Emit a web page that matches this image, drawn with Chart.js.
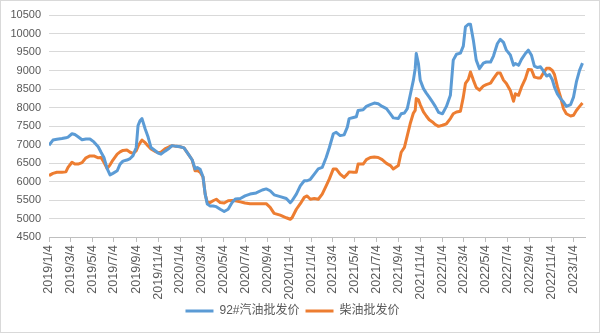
<!DOCTYPE html>
<html>
<head>
<meta charset="utf-8">
<script src="https://cdn.jsdelivr.net/npm/chart.js@4.4.0/dist/chart.umd.min.js"></script>
<style>
  body { margin: 0; background: #fff; }
  #wrap { width: 600px; height: 333px; position: relative; }
</style>
</head>
<body>
<div id="wrap"><canvas id="myChart"></canvas></div>
<script>
// 日期（周度采样，读自原图）
var dates = [
  '2019/1/4','2019/1/15','2019/1/26','2019/2/9','2019/2/20','2019/2/26','2019/3/9','2019/3/17','2019/3/26','2019/4/6',
  '2019/4/17','2019/4/28','2019/5/9','2019/5/21','2019/5/29','2019/6/6','2019/6/15','2019/6/23','2019/7/1','2019/7/13',
  '2019/7/21','2019/7/29','2019/8/9','2019/8/18','2019/8/26','2019/9/4','2019/9/9','2019/9/15','2019/9/20','2019/9/29',
  '2019/10/7','2019/10/15','2019/10/27','2019/11/4','2019/11/12','2019/11/23','2019/12/5','2019/12/13','2019/12/24','2020/1/4',
  '2020/1/15','2020/1/27','2020/2/7','2020/2/15','2020/2/21','2020/2/29','2020/3/8','2020/3/14','2020/3/20','2020/3/28',
  '2020/4/5','2020/4/14','2020/4/25','2020/5/6','2020/5/17','2020/5/28','2020/6/6','2020/6/20','2020/7/3','2020/7/17',
  '2020/8/3','2020/8/20','2020/8/31','2020/9/11','2020/9/22','2020/10/9','2020/10/26','2020/11/6','2020/11/11','2020/11/23',
  '2020/12/4','2020/12/15','2020/12/23','2021/1/1','2021/1/12','2021/1/23','2021/2/3','2021/2/14','2021/2/23','2021/3/6',
  '2021/3/14','2021/3/25','2021/4/5','2021/4/14','2021/4/19','2021/5/1','2021/5/9','2021/5/14','2021/5/28','2021/6/6',
  '2021/6/17','2021/6/28','2021/7/9','2021/7/20','2021/8/1','2021/8/12','2021/8/20','2021/9/3','2021/9/11','2021/9/20',
  '2021/9/28','2021/10/6','2021/10/15','2021/10/20','2021/10/23','2021/10/29','2021/11/3','2021/11/12','2021/11/20','2021/11/28',
  '2021/12/7','2021/12/15','2021/12/24','2022/1/4','2022/1/15','2022/1/26','2022/2/3','2022/2/12','2022/2/23','2022/3/3',
  '2022/3/9','2022/3/17','2022/3/23','2022/3/31','2022/4/8','2022/4/17','2022/4/28','2022/5/6','2022/5/18','2022/5/26',
  '2022/6/6','2022/6/14','2022/6/23','2022/7/1','2022/7/12','2022/7/21','2022/7/26','2022/8/4','2022/8/12','2022/8/23',
  '2022/8/31','2022/9/9','2022/9/17','2022/9/26','2022/10/4','2022/10/12','2022/10/21','2022/10/29','2022/11/6','2022/11/12',
  '2022/11/20','2022/11/29','2022/12/7','2022/12/15','2022/12/27','2023/1/4','2023/1/12','2023/1/21','2023/1/29'
];

// 92#汽油批发价
var gasoline = [
  6980,7120,7140,7160,7180,7200,7290,7270,7210,7130,
  7150,7150,7070,6940,6790,6650,6350,6180,6220,6290,
  6470,6550,6580,6620,6700,6920,7510,7650,7700,7420,
  7200,6920,6830,6770,6740,6820,6900,6970,6950,6940,
  6910,6740,6580,6340,6380,6330,6130,5660,5390,5340,
  5340,5320,5250,5190,5250,5430,5530,5540,5610,5660,
  5690,5770,5800,5750,5640,5590,5540,5430,5480,5660,
  5880,6020,6020,6060,6200,6340,6380,6650,6920,7290,
  7330,7240,7260,7470,7700,7730,7750,7920,7940,8030,
  8080,8120,8100,8030,7970,7830,7720,7700,7830,7850,
  7970,8330,8740,9050,9460,9190,8740,8510,8390,8280,
  8150,8030,7870,7830,8030,8330,9280,9440,9470,9660,
  10180,10250,10250,9820,9280,9050,9200,9230,9230,9390,
  9730,9840,9760,9550,9420,9140,9190,9140,9300,9460,
  9550,9410,9120,9080,9100,8990,8850,8890,8750,8550,
  8370,8240,8150,8030,8080,8280,8690,9010,9200
];

// 柴油批发价
var diesel = [
  6160,6220,6250,6250,6260,6380,6520,6470,6470,6510,
  6640,6690,6690,6640,6650,6520,6350,6450,6580,6740,
  6800,6840,6850,6790,6760,6830,6950,7050,7120,7050,
  6960,6880,6810,6780,6790,6880,6940,6970,6950,6940,
  6910,6740,6580,6290,6300,6250,6120,5660,5430,5430,
  5480,5520,5430,5420,5480,5490,5480,5450,5420,5400,
  5400,5400,5400,5300,5140,5090,5020,4980,5020,5250,
  5400,5570,5610,5520,5540,5520,5660,5880,6070,6340,
  6340,6200,6110,6200,6260,6250,6250,6470,6470,6590,
  6650,6660,6650,6590,6490,6430,6340,6430,6790,6920,
  7240,7560,7850,7920,8240,8210,8080,7880,7770,7670,
  7610,7540,7490,7520,7560,7700,7830,7880,7900,8280,
  8650,8760,8960,8740,8540,8470,8580,8620,8660,8780,
  8930,8930,8740,8650,8460,8170,8370,8330,8550,8780,
  9030,9020,8820,8800,8800,8930,9060,9060,9000,8890,
  8570,8280,7970,7830,7770,7790,7920,8030,8120
];

var tickLabels = [
  '2019/1/4','2019/3/4','2019/5/4','2019/7/4','2019/9/4','2019/11/4',
  '2020/1/4','2020/3/4','2020/5/4','2020/7/4','2020/9/4','2020/11/4',
  '2021/1/4','2021/3/4','2021/5/4','2021/7/4','2021/9/4','2021/11/4',
  '2022/1/4','2022/3/4','2022/5/4','2022/7/4','2022/9/4','2022/11/4',
  '2023/1/4'
];

//日期→距2019/1/4的天数
function dayOf(s) {
  var p = s.split('/').map(Number);
  return (Date.UTC(p[0], p[1] - 1, p[2]) - Date.UTC(2019, 0, 4)) / 86400000;
}

function toPoints(values) {
  return dates.map(function (d, i) { return { x: dayOf(d), y: values[i] }; });
}

var frame = {
  id: 'frame',
  afterDraw: function (chart) {
    var c = chart.ctx;
    c.save();
    c.strokeStyle = '#D9D9D9';
    c.lineWidth = 1;
    c.strokeRect(0.5, 0.5, chart.width - 1, chart.height - 1);
    c.restore();
  }
};

var ctx = document.getElementById('myChart').getContext('2d');
var myChart = new Chart(ctx, {
  type: 'line',
  data: {
    datasets: [{
      label: '92#汽油批发价',
      data: toPoints(gasoline),
      borderColor: '#5B9BD5',
      backgroundColor: '#5B9BD5',
      borderWidth: 3,
      pointRadius: 0,
      tension: 0,
      borderJoinStyle: 'round'
    }, {
      label: '柴油批发价',
      data: toPoints(diesel),
      borderColor: '#ED7D31',
      backgroundColor: '#ED7D31',
      borderWidth: 3,
      pointRadius: 0,
      tension: 0,
      borderJoinStyle: 'round'
    }]
  },
  options: {
    responsive: true,
    maintainAspectRatio: false,
    animation: false,
    layout: { padding: { top: 15, right: 15, bottom: 6, left: 0 } },
    plugins: {
      tooltip: { enabled: false },
      legend: {
        position: 'bottom',
        labels: {
          usePointStyle: true,
          pointStyle: 'line',
          pointStyleWidth: 28,
          boxWidth: 28,
          boxHeight: 12,
          padding: 6,
          color: '#595959',
          font: { family: "'Liberation Sans', 'Noto Sans CJK SC', sans-serif", size: 12 }
        }
      }
    },
    scales: {
      x: {
        type: 'linear',
        min: 0,
        max: dayOf('2023/2/5'),
        afterBuildTicks: function (scale) {
          scale.ticks = tickLabels.map(function (t) { return { value: dayOf(t) }; });
        },
        afterFit: function (scale) { scale.height = 62; },
        grid: { drawOnChartArea: false, drawTicks: true, tickLength: 5, color: '#BFBFBF' },
        border: { color: '#BFBFBF' },
        ticks: {
          autoSkip: false,
          minRotation: 90,
          maxRotation: 90,
          padding: 3,
          color: '#595959',
          font: { family: "'Liberation Sans', sans-serif", size: 12.5 },
          callback: function (v, i) { return tickLabels[i]; }
        }
      },
      y: {
        min: 4500,
        max: 10500,
        afterFit: function (scale) { scale.width = 49; },
        grid: { color: '#D9D9D9', drawTicks: false },
        border: { display: false },
        ticks: {
          stepSize: 500,
          padding: 8,
          color: '#595959',
          font: { family: "'Liberation Sans', sans-serif", size: 11 },
          callback: function (v) { return String(v); }
        }
      }
    }
  },
  plugins: [frame]
});
</script>
</body>
</html>
